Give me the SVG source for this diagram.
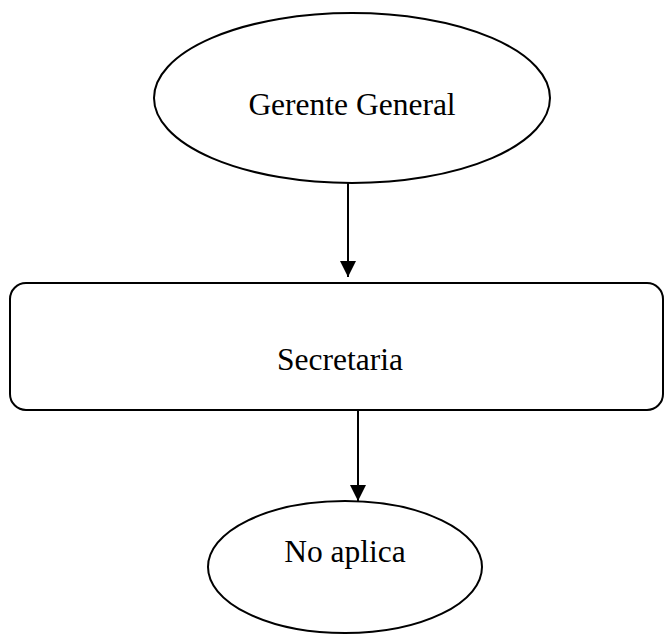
<svg xmlns="http://www.w3.org/2000/svg" width="665" height="635" viewBox="0 0 665 635">
<style>
.shape{fill:#fff;stroke:#000;stroke-width:2}
.lbl{font-family:"Liberation Serif","Times New Roman",serif;font-size:31.5px;fill:#000;text-anchor:middle}
.conn{stroke:#000;stroke-width:2;fill:none}
</style>
<defs>
<marker id="arr" markerUnits="userSpaceOnUse" markerWidth="16" markerHeight="16" viewBox="0 0 16 16" refX="16" refY="8" orient="auto">
<path d="M0,0 L16,8 L0,16 Z" fill="#000"/>
</marker>
</defs>
<rect width="665" height="635" fill="#fff"/>
<g id="connectors">
<line class="conn" x1="348" y1="183" x2="348" y2="277" marker-end="url(#arr)"/>
<line class="conn" x1="358" y1="410" x2="358" y2="501" marker-end="url(#arr)"/>
</g>
<g id="gerente">
<ellipse class="shape" cx="352" cy="98" rx="198" ry="85"/>
<text class="lbl" x="352" y="115">Gerente General</text>
</g>
<g id="secretaria">
<rect class="shape" x="10" y="283" width="653" height="127" rx="16" ry="16"/>
<text class="lbl" x="340" y="370">Secretaria</text>
</g>
<g id="noaplica">
<ellipse class="shape" cx="345" cy="567" rx="137" ry="66"/>
<text class="lbl" x="345" y="562">No aplica</text>
</g>
</svg>
